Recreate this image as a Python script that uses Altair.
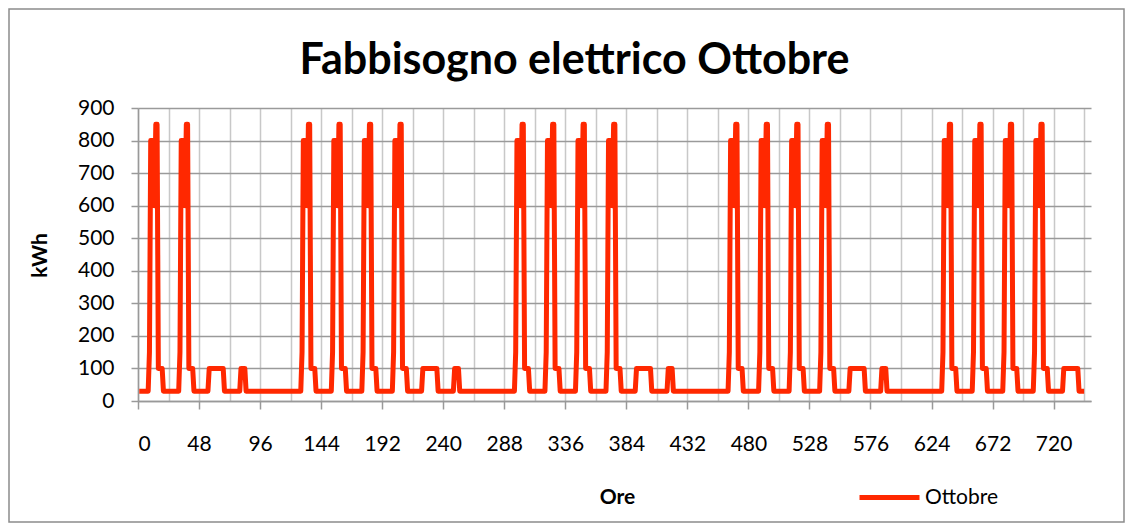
import altair as alt
import pandas as pd

# Daily load profiles (kWh per hour of day, h0..h23)
weekday_profile = [30, 30, 30, 30, 30, 30, 30, 30, 150, 800, 800, 800,
                   600, 850, 850, 100, 100, 100, 100, 30, 30, 30, 30, 30]
plateau_profile = [30, 30, 30, 30, 30, 30, 30, 100, 100, 100, 100, 100,
                   100, 100, 100, 100, 100, 100, 100, 30, 30, 30, 30, 30]
bump_profile = [30, 30, 30, 30, 30, 30, 30, 30, 100, 100, 100, 100,
                30, 30, 30, 30, 30, 30, 30, 30, 30, 30, 30, 30]
flat_profile = [30] * 24

# Day type for each of the 31 days of October
day_types = ["W", "W", "P", "B", "F",
             "W", "W", "W", "W", "P", "B", "F",
             "W", "W", "W", "W", "P", "B", "F",
             "W", "W", "W", "W", "P", "B", "F",
             "W", "W", "W", "W", "P"]

profiles = {"W": weekday_profile, "P": plateau_profile,
            "B": bump_profile, "F": flat_profile}

x_ticks = list(range(0, 745, 24))
series_name = "Ottobre"

values = []
for d in day_types:
    values.extend(profiles[d])
hours = list(range(1, len(values) + 1))
df = pd.DataFrame({"Ore": hours, "kWh": values, "serie": [series_name] * len(values)})

FONT = "Lato"
RED = "#FF2800"
W, H = 953, 293
PAD_L, PAD_T, PAD_R, PAD_B = 130, 100, 34, 122

line = alt.Chart(df).mark_line(strokeWidth=5, strokeJoin="round").encode(
    x=alt.X("Ore:Q",
            scale=alt.Scale(domain=[0, 749.4], nice=False, zero=False),
            axis=alt.Axis(values=x_ticks, title="Ore",
                          labelExpr="datum.value % 48 === 0 ? datum.label : ''",
                          format="d",
                          tickOpacity={"condition": {"test": "datum.value % 48 === 0", "value": 1}, "value": 0},
                          tickSize=8, labelPadding=24,
                          gridColor="#c8c8c8", gridWidth=1.5,
                          domainColor="#999999", domainWidth=1.5,
                          tickColor="#999999", tickWidth=1.5,
                          titleX=479, titleY=96, titleBaseline="middle",
                          titleAlign="center")),
    y=alt.Y("kWh:Q",
            scale=alt.Scale(domain=[0, 900], nice=False),
            axis=alt.Axis(values=list(range(0, 901, 100)), title="kWh",
                          tickSize=7, labelPadding=17,
                          gridColor="#9a9a9a", gridWidth=1.5,
                          domainColor="#999999", domainWidth=1.5,
                          tickColor="#999999", tickWidth=1.5,
                          titleAngle=270, titleX=-98, titleY=147,
                          titleBaseline="middle", titleAlign="center")),
    color=alt.Color("serie:N",
                    scale=alt.Scale(range=[RED]),
                    legend=alt.Legend(title=None, orient="none",
                                      legendX=719, legendY=357,
                                      symbolType="stroke", symbolSize=3600,
                                      symbolStrokeWidth=5, labelOffset=3,
                                      padding=0,
                                      labelFont=FONT, labelFontSize=21,
                                      labelColor="#000000")),
)

frame = alt.Chart(alt.Data(values=[{"a": 1}])).mark_rect(
    fill=None, stroke="#8c8c8c", strokeWidth=1.5
).encode(
    x=alt.value(-PAD_L + 1), x2=alt.value(W + PAD_R - 1),
    y=alt.value(-PAD_T + 1), y2=alt.value(H + PAD_B - 1),
)

chart = alt.layer(frame, line).properties(
    width=W, height=H,
    title=alt.TitleParams("Fabbisogno elettrico Ottobre", font=FONT,
                          fontSize=43, fontWeight="bold", color="#000000",
                          anchor="middle", dx=-40, offset=-75),
    autosize=alt.AutoSizeParams(type="none"),
    padding={"left": PAD_L, "top": PAD_T, "right": PAD_R, "bottom": PAD_B},
).configure_view(stroke=None).configure_axis(
    labelFont=FONT, labelFontSize=21, labelColor="#000000",
    titleFont=FONT, titleFontSize=21, titleFontWeight="bold", titleColor="#000000",
)

chart.save("out.html", embed_options={"renderer": "svg", "actions": False})
